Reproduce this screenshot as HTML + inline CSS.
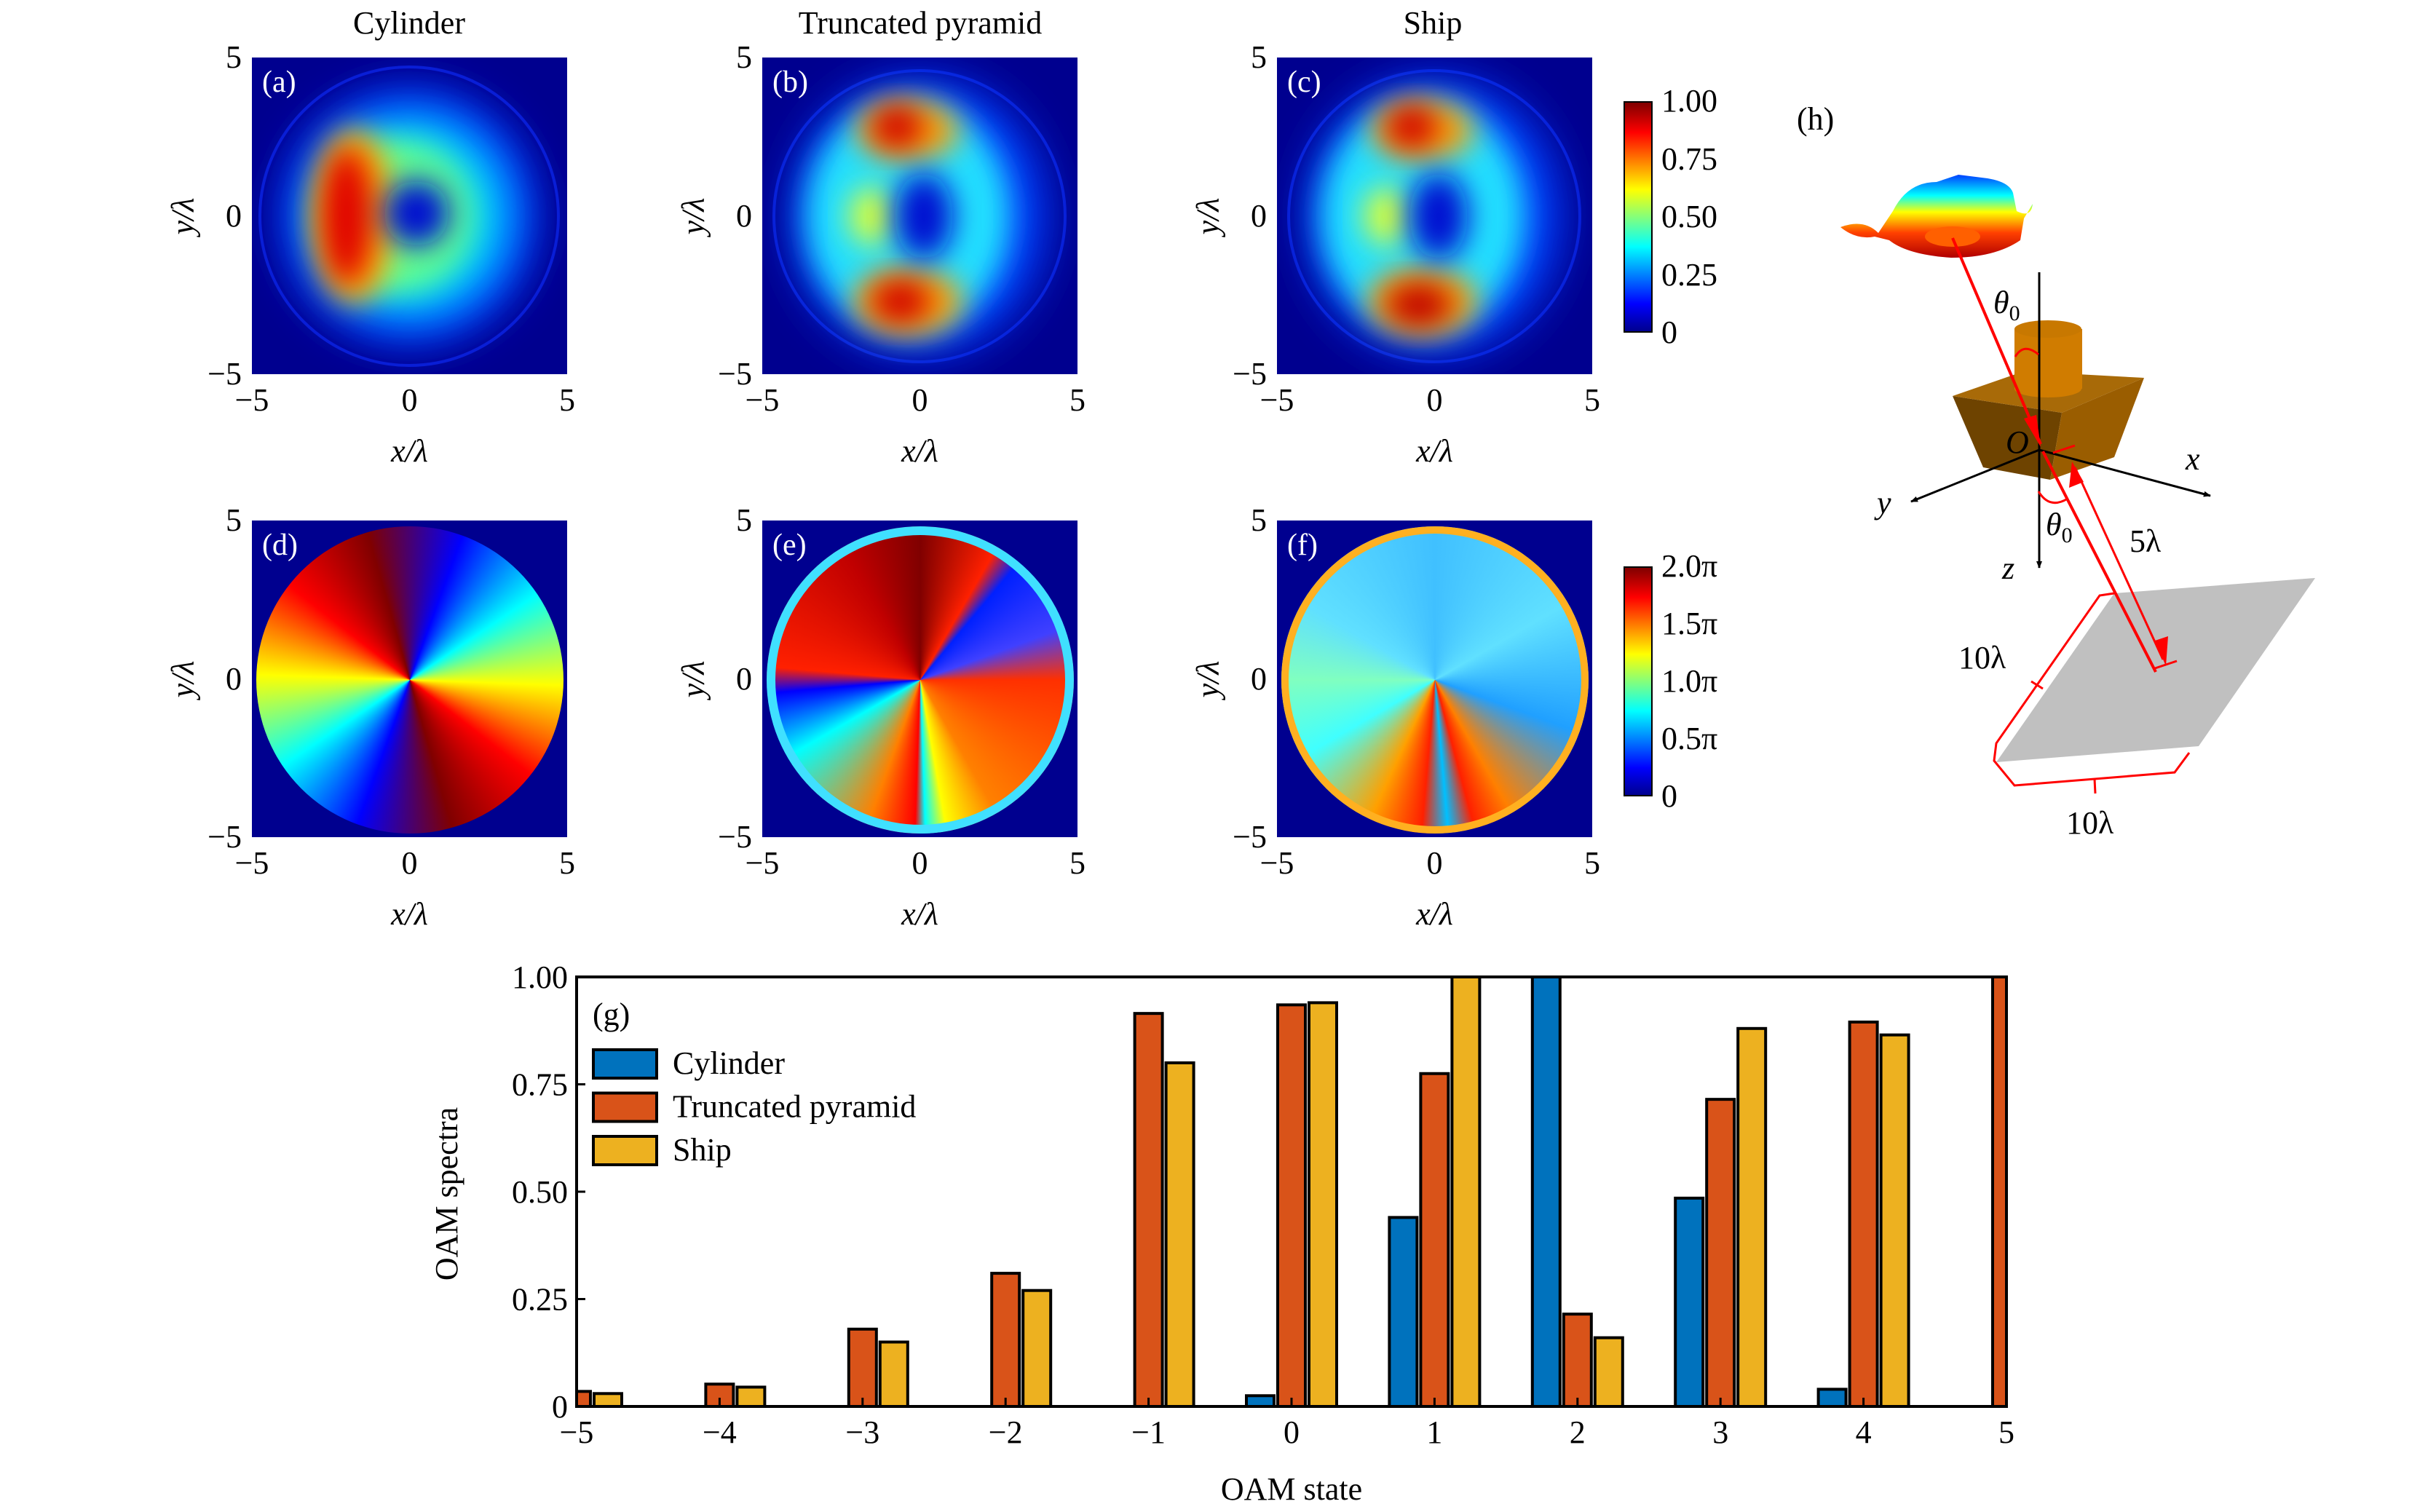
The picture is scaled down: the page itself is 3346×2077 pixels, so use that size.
<!DOCTYPE html>
<html><head><meta charset="utf-8">
<style>
html,body{margin:0;padding:0;background:#fff;}
#root{position:relative;width:3346px;height:2077px;overflow:hidden;font-family:"Liberation Serif",serif;color:#000;}
.t{position:absolute;font-size:44px;line-height:1;white-space:nowrap;}
.panel{position:absolute;width:433px;height:435px;background:#00008f;overflow:hidden;}
.phase{position:absolute;left:6px;top:8px;width:422px;height:422px;border-radius:50%;}
.lbl{position:absolute;left:14px;top:10px;color:#fff;font-size:42px;}
</style></head><body>
<div id="root">

<div class="t" style="left:562px;top:10px;transform:translateX(-50%)">Cylinder</div>
<div class="t" style="left:1264px;top:10px;transform:translateX(-50%)">Truncated pyramid</div>
<div class="t" style="left:1968px;top:10px;transform:translateX(-50%)">Ship</div>

<svg width="0" height="0" style="position:absolute">
<defs>
<filter id="b20" x="-50%" y="-50%" width="200%" height="200%"><feGaussianBlur stdDeviation="20"/></filter>
<filter id="b30" x="-50%" y="-50%" width="200%" height="200%"><feGaussianBlur stdDeviation="30"/></filter>
</defs></svg>

<!-- (a) -->
<div class="panel" style="left:346px;top:79px">
<svg width="433" height="435">
<circle cx="216" cy="218" r="205" fill="none" stroke="#0a1ad0" stroke-width="4"/>
<circle cx="216" cy="218" r="175" fill="#0030ff" filter="url(#b30)"/>
<circle cx="216" cy="218" r="140" fill="#00d0ff" filter="url(#b30)"/>
<circle cx="200" cy="218" r="105" fill="#60ff90" filter="url(#b20)"/>
<ellipse cx="140" cy="218" rx="55" ry="120" fill="#ffb000" filter="url(#b20)"/>
<ellipse cx="130" cy="218" rx="35" ry="95" fill="#e00000" filter="url(#b20)"/>
<circle cx="226" cy="214" r="45" fill="#0010d0" filter="url(#b20)"/>
</svg><div class="lbl">(a)</div></div>

<!-- (b) -->
<div class="panel" style="left:1047px;top:79px">
<svg width="433" height="435">
<circle cx="216" cy="218" r="200" fill="none" stroke="#0a1ad0" stroke-width="4"/>
<ellipse cx="216" cy="218" rx="175" ry="190" fill="#0040ff" filter="url(#b30)"/>
<ellipse cx="200" cy="218" rx="140" ry="160" fill="#20e0ff" filter="url(#b20)"/>
<ellipse cx="150" cy="218" rx="30" ry="40" fill="#e0ff30" filter="url(#b20)"/>
<ellipse cx="200" cy="100" rx="70" ry="40" fill="#ffa000" filter="url(#b20)"/>
<ellipse cx="185" cy="95" rx="35" ry="30" fill="#d00000" filter="url(#b20)"/>
<ellipse cx="200" cy="335" rx="75" ry="45" fill="#ffa000" filter="url(#b20)"/>
<ellipse cx="190" cy="335" rx="40" ry="30" fill="#d00000" filter="url(#b20)"/>
<ellipse cx="222" cy="218" rx="40" ry="60" fill="#0010d0" filter="url(#b20)"/>
</svg><div class="lbl">(b)</div></div>

<!-- (c) -->
<div class="panel" style="left:1754px;top:79px">
<svg width="433" height="435">
<circle cx="216" cy="218" r="200" fill="none" stroke="#0a1ad0" stroke-width="4"/>
<ellipse cx="216" cy="218" rx="175" ry="190" fill="#0040ff" filter="url(#b30)"/>
<ellipse cx="200" cy="218" rx="140" ry="160" fill="#20e0ff" filter="url(#b20)"/>
<ellipse cx="150" cy="218" rx="30" ry="40" fill="#e0ff30" filter="url(#b20)"/>
<ellipse cx="200" cy="100" rx="70" ry="40" fill="#ffa000" filter="url(#b20)"/>
<ellipse cx="185" cy="95" rx="35" ry="30" fill="#d00000" filter="url(#b20)"/>
<ellipse cx="200" cy="335" rx="75" ry="45" fill="#ffa000" filter="url(#b20)"/>
<ellipse cx="195" cy="340" rx="45" ry="30" fill="#c00000" filter="url(#b20)"/>
<ellipse cx="222" cy="218" rx="40" ry="60" fill="#0010d0" filter="url(#b20)"/>
</svg><div class="lbl">(c)</div></div>

<!-- phase panels -->
<div class="panel" style="left:346px;top:715px">
<div class="phase" style="background:conic-gradient(from 200deg at 50% 50%,#0000ff,#00ffff,#ffff00,#ff0000,#800000,#0000ff,#00ffff,#ffff00,#ff0000,#800000,#0000ff);"></div>
<div class="lbl">(d)</div></div>
<div class="panel" style="left:1047px;top:715px">
<div class="phase" style="background:conic-gradient(from 0deg at 50% 50%,#800000,#ff2000 30deg,#0020ff 40deg,#4040ff 70deg,#ff3000 90deg,#ff8000 150deg,#ffff00 170deg,#00ffff 178deg,#ff0000 182deg,#ff8000 200deg,#00ffff 240deg,#0000ff 265deg,#ff2000 275deg,#c00000 330deg,#800000 360deg);box-shadow:inset 0 0 0 12px #40e0ff;"></div>
<div class="lbl">(e)</div></div>
<div class="panel" style="left:1754px;top:715px">
<div class="phase" style="background:conic-gradient(from 0deg at 50% 50%,#40c0ff,#60e0ff 60deg,#20a0ff 110deg,#ff8000 150deg,#ff2000 165deg,#00c0ff 175deg,#ff2000 185deg,#ffa000 205deg,#40ffff 240deg,#80ffc0 270deg,#60e0ff 300deg,#40c0ff 360deg);box-shadow:inset 0 0 0 10px #ffb020;"></div>
<div class="lbl">(f)</div></div>

<!-- colorbars -->
<div style="position:absolute;left:2230px;top:139px;width:40px;height:318px;border:2px solid #000;box-sizing:border-box;background:linear-gradient(to top,#00008f,#0000ff 12%,#00ffff 37%,#ffff00 62%,#ff0000 87%,#800000)"></div>
<div style="position:absolute;left:2230px;top:778px;width:40px;height:316px;border:2px solid #000;box-sizing:border-box;background:linear-gradient(to top,#00008f,#0000ff 12%,#00ffff 37%,#ffff00 62%,#ff0000 87%,#800000)"></div>

<div id="ticks"></div>

<!-- panel h diagram -->
<svg style="position:absolute;left:0;top:0" width="3346" height="1200">
<defs>
<linearGradient id="tp" x1="0" y1="1" x2="0" y2="0"><stop offset="0" stop-color="#b00000"/><stop offset="0.3" stop-color="#ff4000"/><stop offset="0.55" stop-color="#ffff00"/><stop offset="0.75" stop-color="#00ffff"/><stop offset="1" stop-color="#0040ff"/></linearGradient>
<marker id="ah" markerWidth="10" markerHeight="8" refX="9" refY="4" orient="auto" markerUnits="userSpaceOnUse" viewBox="0 0 10 8"><path d="M0,0 L10,4 L0,8z" fill="#000"/></marker>
</defs>
<text x="2468" y="178" font-size="44" font-family="Liberation Serif">(h)</text>
<path d="M2528,312 Q2560,300 2580,320 L2600,290 Q2620,250 2660,250 L2690,240 L2730,245 Q2760,250 2765,265 L2770,290 Q2790,300 2792,280 L2780,300 L2775,330 Q2740,354 2680,354 Q2620,350 2595,330 L2575,325 Q2550,330 2528,312z" fill="url(#tp)"/>
<ellipse cx="2682" cy="325" rx="38" ry="14" fill="#ff6000"/>
<polygon points="2682,544 2724,642 2816,659 2832,567" fill="#6e4300"/>
<polygon points="2832,567 2816,659 2904,628 2945,519" fill="#9a5d00"/>
<polygon points="2682,544 2780,510 2945,519 2832,567" fill="#a86a08"/>
<rect x="2767" y="452" width="93" height="82" fill="#d07c00"/>
<ellipse cx="2813" cy="534" rx="46" ry="12" fill="#d07c00"/>
<ellipse cx="2813" cy="452" rx="46" ry="12" fill="#c87800"/>
<polygon points="2904,815 3180,794 3020,1025 2742,1047" fill="#c0c0c0"/>
<line x1="2801" y1="374" x2="2801" y2="780" stroke="#000" stroke-width="3" marker-end="url(#ah)"/>
<line x1="2801" y1="618" x2="3036" y2="681" stroke="#000" stroke-width="3" marker-end="url(#ah)"/>
<line x1="2801" y1="618" x2="2625" y2="689" stroke="#000" stroke-width="3" marker-end="url(#ah)"/>
<line x1="2682" y1="327" x2="2803" y2="610" stroke="#f00" stroke-width="4"/>
<polygon points="2803,614 2780,575 2797,570" fill="#f00"/>
<line x1="2806" y1="620" x2="2961" y2="923" stroke="#f00" stroke-width="4"/>
<line x1="2850" y1="642" x2="2971" y2="906" stroke="#f00" stroke-width="3"/>
<polygon points="2846,634 2842,670 2862,662" fill="#f00"/>
<polygon points="2975,915 2960,880 2978,874" fill="#f00"/>
<line x1="2820" y1="622" x2="2850" y2="612" stroke="#f00" stroke-width="3"/>
<line x1="2960" y1="918" x2="2990" y2="908" stroke="#f00" stroke-width="3"/>
<path d="M2768,490 Q2780,470 2800,487" fill="none" stroke="#f00" stroke-width="3"/>
<path d="M2800,675 Q2815,700 2840,685" fill="none" stroke="#f00" stroke-width="3"/>
<path d="M2904,815 L2884,818 L2742,1021 L2739,1045 L2767,1079 L2987,1061 L3007,1034" fill="none" stroke="#f00" stroke-width="3"/>
<line x1="2806" y1="946" x2="2790" y2="936" stroke="#f00" stroke-width="3"/>
<line x1="2877" y1="1070" x2="2878" y2="1090" stroke="#f00" stroke-width="3"/>
<g font-family="Liberation Serif" font-size="44" font-style="italic">
<text x="2738" y="430">θ<tspan font-size="30" font-style="normal" dy="10">0</tspan></text>
<text x="2810" y="735">θ<tspan font-size="30" font-style="normal" dy="10">0</tspan></text>
<text x="2755" y="622">O</text>
<text x="3002" y="645">x</text>
<text x="2578" y="705">y</text>
<text x="2750" y="795">z</text>
</g>
<g font-family="Liberation Serif" font-size="44">
<text x="2925" y="758">5λ</text>
<text x="2690" y="918">10λ</text>
<text x="2838" y="1145">10λ</text>
</g>
</svg>

<!-- bar chart -->
<svg id="bars" style="position:absolute;left:0;top:0" width="3346" height="2077"></svg>
</div>

<script>
const categories=[-5,-4,-3,-2,-1,0,1,2,3,4,5];
const cylinderValues=[0,0,0,0,0,0.025,0.44,1.0,0.485,0.04,0];
const pyramidValues=[0.035,0.052,0.18,0.31,0.915,0.935,0.775,0.215,0.715,0.895,1.0];
const shipValues=[0.03,0.045,0.15,0.27,0.8,0.94,1.0,0.16,0.88,0.865,0];
const yTickValues=[0,0.25,0.5,0.75,1.0];
const yTickLabels=["0","0.25","0.50","0.75","1.00"];
const xTickLabels=["−5","−4","−3","−2","−1","0","1","2","3","4","5"];
const seriesNames=["Cylinder","Truncated pyramid","Ship"];
const seriesColors=["#0072BD","#D95319","#EDB120"];

const NS="http://www.w3.org/2000/svg";
const svg=document.getElementById('bars');
const L=792,R=2756,T=1342,B=1932;
function xs(v){return L+(v-(-5))/10*(R-L);}
function ys(v){return B-v*(B-T);}
function mk(tag,attrs,parent){const e=document.createElementNS(NS,tag);for(const k in attrs)e.setAttribute(k,attrs[k]);(parent||svg).appendChild(e);return e;}
const clip=mk('clipPath',{id:'pc'});mk('rect',{x:L,y:T-3,width:R-L,height:B-T+3},clip);
const g=mk('g',{'clip-path':'url(#pc)'});
const allSeries=[cylinderValues,pyramidValues,shipValues];
const offs=[-43,0,43],bw=38;
allSeries.forEach((vals,si)=>{vals.forEach((v,i)=>{
  if(v<=0)return;
  const r=mk('rect',{x:xs(categories[i])+offs[si]-bw/2,y:ys(v),width:bw,height:B-ys(v),fill:seriesColors[si],stroke:'#000','stroke-width':4},g);
  
  
});});
mk('rect',{x:L,y:T,width:R-L,height:B-T,fill:'none',stroke:'#000','stroke-width':4});
yTickValues.forEach((v,i)=>{
  mk('line',{x1:L,x2:L+12,y1:ys(v),y2:ys(v),stroke:'#000','stroke-width':3});
  const t=mk('text',{x:L-12,y:ys(v)+15,'text-anchor':'end','font-size':44,'font-family':'Liberation Serif'});t.textContent=yTickLabels[i];
  
  
});
categories.forEach((c,i)=>{
  mk('line',{x1:xs(c),x2:xs(c),y1:B,y2:B-12,stroke:'#000','stroke-width':3});
  const t=mk('text',{x:xs(c),y:B+50,'text-anchor':'middle','font-size':44,'font-family':'Liberation Serif'});t.textContent=xTickLabels[i];
  
  
});
let t=mk('text',{x:(L+R)/2,y:2060,'text-anchor':'middle','font-size':44,'font-family':'Liberation Serif'});t.textContent='OAM state';


t=mk('text',{x:628,y:1640,'text-anchor':'middle','font-size':44,'font-family':'Liberation Serif',transform:'rotate(-90 628 1640)'});t.textContent='OAM spectra';


t=mk('text',{x:814,y:1408,'font-size':44,'font-family':'Liberation Serif'});t.textContent='(g)';


seriesNames.forEach((n,i)=>{
  const y0=1442+i*59.5;
  const s=mk('rect',{x:815,y:y0,width:87,height:39,fill:seriesColors[i],stroke:'#000','stroke-width':4});
  
  
  const tt=mk('text',{x:924,y:y0+33,'font-size':44,'font-family':'Liberation Serif'});tt.textContent=n;
  
  
});

// heatmap panel ticks
const panelXs=[346,1047,1754];const panelYs=[79,715];const pw=433,ph=435;
const tickLbl=["−5","0","5"];
const tk=document.getElementById('ticks');
function addT(txt,x,y,anchor,name){const d=document.createElement('div');d.className='t';d.textContent=txt;d.style.left=x+'px';d.style.top=y+'px';
 d.style.transform=anchor;tk.appendChild(d);}
panelYs.forEach(py=>panelXs.forEach(px=>{
  [0,1,2].forEach(k=>{
    addT(tickLbl[k],px+k*pw/2,py+ph+14,'translateX(-50%)','x-tick-label');
    addT(tickLbl[2-k],px-14,py+k*ph/2-22,'translateX(-100%)','y-tick-label');
  });
  addT('x/λ',px+pw/2,py+ph+84,'translateX(-50%)','x-axis-title');
  addT('y/λ',px-120,py+ph/2-22,'rotate(-90deg)','y-axis-title');
}));
const cb1=["1.00","0.75","0.50","0.25","0"],cb2=["2.0π","1.5π","1.0π","0.5π","0"];
cb1.forEach((s,i)=>addT(s,2282,139+i*(318/4)-22,'none','colorbar-tick-label'));
cb2.forEach((s,i)=>addT(s,2282,778+i*(316/4)-22,'none','colorbar-tick-label'));
document.querySelectorAll('#ticks .t').forEach(e=>{if(e.textContent.includes('/λ'))e.style.fontStyle='italic';});
</script>
</body></html>
